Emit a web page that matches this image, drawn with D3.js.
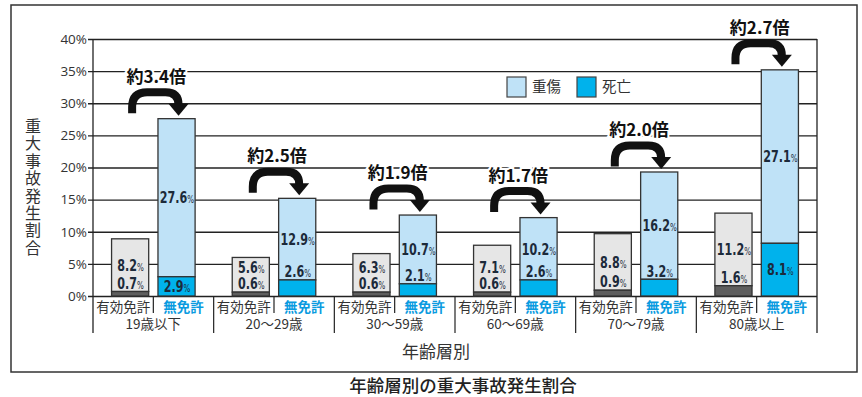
<!DOCTYPE html>
<html><head><meta charset="utf-8">
<script src="https://cdn.jsdelivr.net/npm/d3@7/dist/d3.min.js"></script>
<style>
html,body{margin:0;padding:0;background:#fff;}
svg{display:block;}
</style></head>
<body>
<svg id="chart" width="862" height="397"></svg>
<script>
// ---- data ----
const groups = ["19歳以下","20～29歳","30～59歳","60～69歳","70～79歳","80歳以上"];
const licenses = ["有効免許","無免許"];
// printed labels (%)
const validSeriousText = [8.2, 5.6, 6.3, 7.1, 8.8, 11.2];
const validDeathText   = [0.7, 0.6, 0.6, 0.6, 0.9, 1.6];
const unlicSeriousText = [27.6, 12.9, 10.7, 10.2, 16.2, 27.1];
const unlicDeathText   = [2.9, 2.6, 2.1, 2.6, 3.2, 8.1];
// segment heights as drawn in the picture (%)
const validSerious = [8.2, 5.4, 6.0, 7.3, 8.8, 11.3];
const validDeath   = [0.7, 0.6, 0.6, 0.6, 0.9, 1.6];
const unlicSerious = [24.6, 12.7, 10.7, 9.7, 16.7, 27.0];
const unlicDeath   = [3.0, 2.5, 1.9, 2.5, 2.6, 8.2];
const ratioLabels = ["約3.4倍","約2.5倍","約1.9倍","約1.7倍","約2.0倍","約2.7倍"];
const yTicks = [0, 5, 10, 15, 20, 25, 30, 35, 40];
const legendItems = ["重傷","死亡"];

// ---- layout ----
const svg = d3.select("#chart");
const L = 93, R = 817, T = 39, B = 296;
const CJK = "'Noto Sans CJK JP','Noto Sans',sans-serif";
const NUM = "'DejaVu Sans Condensed','Liberation Sans',sans-serif";
const ink = "#222";

const y = d3.scaleLinear().domain([0, 40]).range([B, T]);
const x0 = d3.scaleBand().domain(groups).range([L, R]).padding(0);
const x1 = d3.scaleBand().domain(licenses).range([0, x0.bandwidth()]).paddingInner(0.2).paddingOuter(0.4);
const xHalf = d3.scaleBand().domain(licenses).range([0, x0.bandwidth()]).padding(0);

// outer frame
svg.append("rect").attr("x", 11).attr("y", 5).attr("width", 846).attr("height", 367)
  .attr("fill", "none").attr("stroke", "#333").attr("stroke-width", 1.5);

// gridlines + y axis
const yAxis = d3.axisLeft(y).tickValues(yTicks).tickSize(-(R - L)).tickSizeOuter(0).tickPadding(6)
  .tickFormat(d => d + "%");
const gy = svg.append("g").attr("transform", `translate(${L},0)`).call(yAxis);
gy.select(".domain").remove();
gy.selectAll(".tick line").attr("stroke", ink).attr("stroke-width", 1.3).attr("x1", -5);
gy.selectAll(".tick text").attr("fill", "#333").attr("font-family", "'Open Sans',sans-serif")
  .attr("font-size", 13.5).attr("x", -6);

// plot side lines and separators
svg.append("line").attr("x1", L).attr("x2", L).attr("y1", T).attr("y2", 333).attr("stroke", ink).attr("stroke-width", 1.3);
svg.append("line").attr("x1", R).attr("x2", R).attr("y1", T).attr("y2", 333).attr("stroke", ink).attr("stroke-width", 1.3);
groups.forEach((g, i) => {
  const gx = x0(g);
  if (i > 0) svg.append("line").attr("x1", gx).attr("x2", gx).attr("y1", B).attr("y2", 333).attr("stroke", ink).attr("stroke-width", 1.2);
  const cx = gx + x0.bandwidth() / 2;
  svg.append("line").attr("x1", cx).attr("x2", cx).attr("y1", B).attr("y2", 313).attr("stroke", ink).attr("stroke-width", 1.2);
});

// bars
const colors = {
  "有効免許": {serious: "#e6e6e6", death: "#5e5e5e"},
  "無免許": {serious: "#bfe2f7", death: "#00b2ec"}
};
const rows = [];
groups.forEach((g, i) => {
  rows.push({g, lic: "有効免許", s: validSerious[i], d: validDeath[i], st: validSeriousText[i], dt: validDeathText[i]});
  rows.push({g, lic: "無免許", s: unlicSerious[i], d: unlicDeath[i], st: unlicSeriousText[i], dt: unlicDeathText[i]});
});

const bars = svg.append("g");
rows.forEach(r => {
  const bx = x0(r.g) + x1(r.lic), bw = x1.bandwidth();
  const c = colors[r.lic];
  bars.append("rect").attr("x", bx).attr("y", y(r.s + r.d)).attr("width", bw).attr("height", y(r.d) - y(r.s + r.d))
    .attr("fill", c.serious).attr("stroke", "#333").attr("stroke-width", 1.3);
  bars.append("rect").attr("x", bx).attr("y", y(r.d)).attr("width", bw).attr("height", y(0) - y(r.d))
    .attr("fill", c.death).attr("stroke", "#333").attr("stroke-width", 1.3);

  const cxb = bx + bw / 2;
  const hD = y(0) - y(r.d);
  const dY = (r.lic === "無免許" && hD >= 18) ? (y(0) + y(r.d)) / 2 : y(r.d) - 8.5;
  const sY = Math.min((y(r.s + r.d) + y(r.d)) / 2, dY - 16);
  [[r.st, sY], [r.dt, dY]].forEach(([v, yy]) => {
    const t = bars.append("text").attr("transform", `translate(${cxb + 0.5},${yy}) scale(0.8,1)`)
      .attr("dy", "0.37em")
      .attr("text-anchor", "middle").attr("font-family", NUM).attr("font-weight", "bold")
      .attr("fill", "#1c2a3a").attr("font-size", 15.5);
    t.append("tspan").text(v.toFixed(1));
    t.append("tspan").attr("font-size", 10).attr("font-weight", "normal").text("%");
  });
});

// ratio arrows
const arrows = svg.append("g");
groups.forEach((g, i) => {
  const xa = x0(g) + x1("有効免許") + x1.bandwidth() / 2 + 2;
  const xb = x0(g) + x1("無免許") + x1.bandwidth() / 2 + 2;
  const tip = y(unlicSerious[i] + unlicDeath[i]) - 3;
  const top = tip - 23.5, base = tip - 12, bot = tip - 2.5;
  const p = d3.path();
  p.moveTo(xa, bot);
  p.lineTo(xa, top + 15);
  p.quadraticCurveTo(xa, top, xa + 15, top);
  p.lineTo(xb - 13, top);
  p.quadraticCurveTo(xb, top, xb, base + 1);
  arrows.append("path").attr("d", p.toString()).attr("fill", "none").attr("stroke", "#111").attr("stroke-width", 8);
  const h = d3.path();
  h.moveTo(xb - 10, base); h.lineTo(xb + 10, base); h.lineTo(xb, tip); h.closePath();
  arrows.append("path").attr("d", h.toString()).attr("fill", "#111");
  arrows.append("text").attr("x", (xa + xb) / 2 + 1).attr("y", tip - 39).attr("dy", "0.36em")
    .attr("text-anchor", "middle").attr("font-family", CJK).attr("font-weight", "bold")
    .attr("font-size", 17).attr("fill", "#111")
    .attr("stroke", "#fff").attr("stroke-width", 4).attr("paint-order", "stroke")
    .text(ratioLabels[i]);
});

// x labels
groups.forEach(g => {
  licenses.forEach(l => {
    svg.append("text").attr("x", x0(g) + xHalf(l) + xHalf.bandwidth() / 2).attr("y", 307).attr("dy", "0.36em")
      .attr("text-anchor", "middle").attr("font-family", CJK).attr("font-size", 13.5)
      .attr("font-weight", l === "無免許" ? "bold" : "normal")
      .attr("fill", l === "無免許" ? "#0a9be0" : "#333").text(l);
  });
  svg.append("text").attr("x", x0(g) + x0.bandwidth() / 2).attr("y", 324).attr("dy", "0.36em")
    .attr("text-anchor", "middle").attr("font-family", CJK).attr("font-size", 13.5).attr("fill", "#333").text(g);
});

// axis titles
svg.append("text").attr("x", 436).attr("y", 352).attr("dy", "0.36em").attr("text-anchor", "middle")
  .attr("font-family", CJK).attr("font-size", 17).attr("fill", "#333").text("年齢層別");
svg.append("text").attr("x", 33).attr("y", 118)
  .attr("style", "writing-mode: vertical-rl; text-orientation: upright;")
  .attr("font-family", CJK).attr("font-size", 16).attr("letter-spacing", 1.4).attr("fill", "#333")
  .text("重大事故発生割合");

// legend
const leg = svg.append("g");
legendItems.forEach((name, k) => {
  const lx = 507 + k * 70;
  leg.append("rect").attr("x", lx).attr("y", 77).attr("width", 19).attr("height", 20)
    .attr("fill", k === 0 ? colors["無免許"].serious : colors["無免許"].death).attr("stroke", "#444").attr("stroke-width", 1.2);
  leg.append("text").attr("x", lx + 25).attr("y", 87).attr("dy", "0.36em").attr("font-family", CJK)
    .attr("font-size", 14.5).attr("fill", "#333").text(name);
});

// title
svg.append("text").attr("x", 463).attr("y", 391.5).attr("text-anchor", "middle")
  .attr("font-family", CJK).attr("font-size", 17.5).attr("font-weight", 500).attr("fill", "#222")
  .text("年齢層別の重大事故発生割合");
</script>
</body></html>
